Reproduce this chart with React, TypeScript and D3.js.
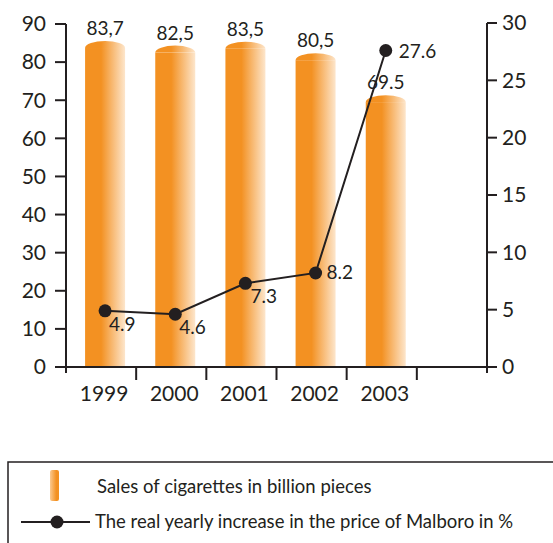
import React from "react";
import * as d3 from "d3";

const years = ["1999", "2000", "2001", "2002", "2003", ""];
const sales = [83.7, 82.5, 83.5, 80.5, 69.5];
const salesLabels = ["83,7", "82,5", "83,5", "80,5", "69.5"];
const price = [4.9, 4.6, 7.3, 8.2, 27.6];
const priceLabels = ["4.9", "4.6", "7.3", "8.2", "27.6"];
const leftTicks = [0, 10, 20, 30, 40, 50, 60, 70, 80, 90];
const rightTicks = [0, 5, 10, 15, 20, 25, 30];
const legendLabels = [
  "Sales of cigarettes in billion pieces",
  "The real yearly increase in the price of Malboro in %",
];

const FONT = "Lato, 'DejaVu Sans', sans-serif";
const ORANGE = "#F39122";
const INK = "#231f20";

export default function App() {
  const x = d3.scaleBand<string>().domain(years).range([66, 487]).padding(0);
  const yL = d3.scaleLinear().domain([0, 90]).range([367, 24]);
  const yR = d3.scaleLinear().domain([0, 30]).range([367, 23]);
  const barW = 40;
  const cx = (i: number) => (x(years[i]) as number) + x.bandwidth() / 2 + 4;

  const line = d3
    .line<number>()
    .x((_, i) => cx(i))
    .y((d) => yR(d));

  const capRy = 7;
  const labelOffsets = [
    { dx: 4, dy: 20 },
    { dx: 4, dy: 20 },
    { dx: 5, dy: 20 },
    { dx: 11, dy: 6 },
    { dx: 13, dy: 7 },
  ];

  return (
    <svg
      width={553}
      height={543}
      style={{ position: "absolute", left: 0, top: 0, background: "#fff" }}
      fontFamily={FONT}
    >
      <defs>
        <linearGradient id="barGrad" x1="0" x2="1" y1="0" y2="0">
          <stop offset="0%" stopColor={ORANGE} />
          <stop offset="40%" stopColor={ORANGE} />
          <stop offset="100%" stopColor="#fde6cc" />
        </linearGradient>
        <linearGradient id="legGrad" x1="0" x2="1" y1="0" y2="0">
          <stop offset="0%" stopColor="#fbc98f" />
          <stop offset="70%" stopColor={ORANGE} />
          <stop offset="100%" stopColor={ORANGE} />
        </linearGradient>
      </defs>

      {/* bars */}
      {sales.map((v, i) => {
        const c = cx(i);
        const top = yL(v);
        return (
          <g key={"b" + i}>
            <rect x={c - barW / 2} y={top} width={barW} height={yL(0) - top} fill="url(#barGrad)" />
            <path
              d={`M${c - barW / 2},${top} A${barW / 2},${capRy} 0 0 1 ${c + barW / 2},${top} Z`}
              fill="url(#barGrad)"
            />
            <text
              x={c}
              y={top - capRy - 6}
              textAnchor="middle"
              fontSize={19}
              fill={INK}
            >
              {salesLabels[i]}
            </text>
          </g>
        );
      })}

      {/* left axis */}
      <line x1={66} x2={66} y1={yL(90)} y2={373} stroke={INK} strokeWidth={2} />
      {leftTicks.map((t) => (
        <g key={"l" + t}>
          <line x1={55} x2={66} y1={yL(t)} y2={yL(t)} stroke={INK} strokeWidth={2} />
          <text x={46} y={yL(t)} dy="0.35em" textAnchor="end" fontSize={21} fill={INK}>
            {t}
          </text>
        </g>
      ))}

      {/* right axis */}
      <line x1={487} x2={487} y1={yR(30)} y2={373} stroke={INK} strokeWidth={2} />
      {rightTicks.map((t) => (
        <g key={"r" + t}>
          <line x1={487} x2={497} y1={yR(t)} y2={yR(t)} stroke={INK} strokeWidth={2} />
          <text x={502} y={yR(t)} dy="0.35em" textAnchor="start" fontSize={21} fill={INK}>
            {t}
          </text>
        </g>
      ))}

      {/* x axis */}
      <line x1={60} x2={497} y1={yL(0)} y2={yL(0)} stroke={INK} strokeWidth={2} />
      {years.map((yr, i) => {
        const b = x(yr) as number;
        return (
          <g key={"x" + i}>
            {i > 0 && (
              <line x1={b} x2={b} y1={yL(0)} y2={380} stroke={INK} strokeWidth={2} />
            )}
            {yr && (
              <text x={b + x.bandwidth() / 2 + 3} y={401} textAnchor="middle" fontSize={21} fill={INK}>
                {yr}
              </text>
            )}
          </g>
        );
      })}

      {/* line series */}
      <path d={line(price) || ""} fill="none" stroke={INK} strokeWidth={2} />
      {price.map((v, i) => (
        <g key={"p" + i}>
          <circle cx={cx(i)} cy={yR(v)} r={6.5} fill={INK} />
          <text
            x={cx(i) + labelOffsets[i].dx}
            y={yR(v) + labelOffsets[i].dy}
            fontSize={19}
            fill={INK}
          >
            {priceLabels[i]}
          </text>
        </g>
      ))}

      {/* legend */}
      <rect x={8} y={462} width={560} height={100} fill="none" stroke={INK} strokeWidth={1.5} />
      <rect x={50} y={470} width={9} height={31} rx={2} fill="url(#legGrad)" />
      <text x={97} y={493} fontSize={18.5} fill={INK}>
        {legendLabels[0]}
      </text>
      <line x1={21} x2={90} y1={522} y2={522} stroke={INK} strokeWidth={2} />
      <circle cx={57} cy={522} r={6.5} fill={INK} />
      <text x={95} y={528} fontSize={18.5} fill={INK}>
        {legendLabels[1]}
      </text>
    </svg>
  );
}
